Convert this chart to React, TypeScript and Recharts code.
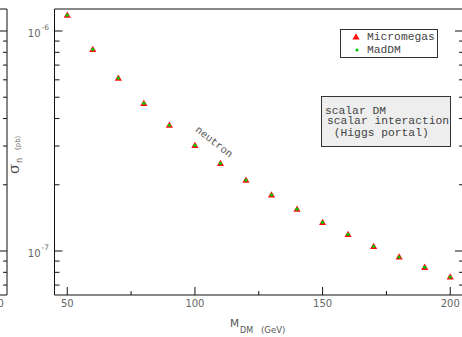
import { ComposedChart, Scatter, XAxis, YAxis, Legend } from 'recharts'

// spin-independent DM-neutron cross section, scalar DM (Higgs portal)
const masses = [50, 60, 70, 80, 90, 100, 110, 120, 130, 140, 150, 160, 170, 180, 190, 200]
const micromegas = [
  1.18e-6, 8.25e-7, 6.11e-7, 4.69e-7, 3.73e-7, 3.02e-7, 2.5e-7, 2.1e-7,
  1.8e-7, 1.55e-7, 1.35e-7, 1.19e-7, 1.05e-7, 9.39e-8, 8.43e-8, 7.62e-8,
]
const madDM = [
  1.18e-6, 8.25e-7, 6.11e-7, 4.69e-7, 3.73e-7, 3.02e-7, 2.5e-7, 2.1e-7,
  1.8e-7, 1.55e-7, 1.35e-7, 1.19e-7, 1.05e-7, 9.39e-8, 8.43e-8, 7.62e-8,
]
const seriesNames = ['Micromegas', 'MadDM']
const xTicks = [50, 75, 100, 125, 150, 175, 200]
const xLabelled = [50, 100, 150, 200]
const yTicks = [7e-8, 8e-8, 9e-8, 1e-7, 2e-7, 3e-7, 4e-7, 5e-7, 6e-7, 7e-7, 8e-7, 9e-7, 1e-6]
const yLabelled = [1e-7, 1e-6]
const xDomain = [45, 205]
const yDomain = [6.31e-8, 1.259e-6]
const boxLines = ['scalar DM', 'scalar interaction', ' (Higgs portal)']

const microData = masses.map((m, i) => ({ m, sigma: micromegas[i] }))
const madData = masses.map((m, i) => ({ m, sigma: madDM[i] }))

const INK = '#111'
const GREY = '#666'
const SANS = '"DejaVu Sans", sans-serif'
const MONO = '"Liberation Mono", monospace'

const BottomTick = ({ x, y, payload }: any) => {
  const big = xLabelled.includes(payload.value)
  return (
    <g>
      <line x1={x} x2={x} y1={y} y2={y - (big ? 8 : 4)} stroke={INK} />
      {big && (
        <text x={x} y={y + 11.5} textAnchor="middle" fontSize={10} fill={GREY} fontFamily={SANS}>
          {payload.value}
        </text>
      )}
    </g>
  )
}

const TopTick = ({ x, y, payload }: any) => {
  const big = xLabelled.includes(payload.value)
  return <line x1={x} x2={x} y1={y} y2={y + (big ? 8 : 4)} stroke={INK} />
}

const LeftTick = ({ x, y, payload }: any) => {
  const big = yLabelled.includes(payload.value)
  const exp = Math.round(Math.log10(payload.value))
  return (
    <g>
      <line x1={x} x2={x + (big ? 8 : 5)} y1={y} y2={y} stroke={INK} />
      {big && (
        <g fill={GREY} fontFamily={SANS}>
          <text x={x - 14} y={y + 6} textAnchor="end" fontSize={10}>10</text>
          <text x={x - 13} y={y - 1} fontSize={7.5}>{exp}</text>
        </g>
      )}
    </g>
  )
}

const RightTick = ({ x, y, payload }: any) => {
  const big = yLabelled.includes(payload.value)
  return <line x1={x} x2={x - (big ? 8 : 4)} y1={y} y2={y} stroke={INK} />
}

const Triangle = ({ cx, cy }: any) => (
  <polygon points={`${cx},${cy - 3.7} ${cx - 3.6},${cy + 2.6} ${cx + 3.6},${cy + 2.6}`} fill="#ff1010" />
)
const GreenDot = ({ cx, cy }: any) => <circle cx={cx} cy={cy} r={1.6} fill="#00c800" />

const XTitle = () => (
  <g fill="#555" fontFamily={SANS}>
    <text x={230} y={327} fontSize={10.5}>M</text>
    <text x={240} y={333} fontSize={8}>DM</text>
    <text x={261} y={332.5} fontSize={8.5}>(GeV)</text>
  </g>
)

const YTitle = () => (
  <g fill="#444">
    <text transform="translate(18.5,174) rotate(-90)" fontSize={15} fontFamily='"DejaVu Serif", serif'>σ</text>
    <text transform="translate(22,163) rotate(-90)" fontSize={8} fontFamily={SANS} fill="#555">n</text>
    <text transform="translate(19.5,150) rotate(-90)" fontSize={7} fontFamily={SANS} fill={GREY}>(pb)</text>
  </g>
)

const LegendBox = ({ payload }: any) => {
  const items = [...(payload || [])].sort(
    (a: any, b: any) => seriesNames.indexOf(a.value) - seriesNames.indexOf(b.value),
  )
  return (
    <div
      style={{
        width: 96, height: 27, border: '1px solid #333', background: '#fff', position: 'relative',
        fontFamily: MONO, fontSize: 11.3, color: '#444',
      }}
    >
      <svg width={24} height={27} style={{ position: 'absolute', left: 0, top: 0 }}>
        <Triangle cx={15} cy={7} />
        <GreenDot cx={16} cy={20} />
      </svg>
      {items.map((entry: any, i: number) => (
        <div key={entry.value} style={{ position: 'absolute', left: 26, top: 0.5 + i * 13, lineHeight: '13px' }}>
          {entry.value}
        </div>
      ))}
    </div>
  )
}

function Frame({ decorated }: { decorated: boolean }) {
  return (
    <ComposedChart width={480} height={337} margin={{ top: 5, right: 7, bottom: 12, left: 0 }}>
      <XAxis
        dataKey="m" type="number" domain={xDomain} ticks={xTicks} interval={0} allowDataOverflow
        height={30} tickSize={0} tickMargin={0} tickLine={false} tick={<BottomTick />}
        axisLine={{ stroke: INK }} label={decorated ? <XTitle /> : undefined}
      />
      <XAxis
        xAxisId="top" orientation="top" type="number" domain={xDomain} ticks={xTicks} interval={0}
        allowDataOverflow height={4} tickSize={0} tickMargin={0} tickLine={false} tick={<TopTick />}
        axisLine={{ stroke: INK }}
      />
      <YAxis
        dataKey="sigma" type="number" scale="log" domain={yDomain} ticks={yTicks} interval={0}
        allowDataOverflow width={54.5} tickSize={0} tickMargin={0} tickLine={false} tick={<LeftTick />}
        axisLine={{ stroke: INK }} label={decorated ? <YTitle /> : undefined}
      />
      <YAxis
        yAxisId="right" orientation="right" type="number" scale="log" domain={yDomain} ticks={yTicks}
        interval={0} allowDataOverflow width={10} tickSize={0} tickMargin={0} tickLine={false}
        tick={<RightTick />} axisLine={{ stroke: INK }}
      />
      {decorated && (
        <Legend
          layout="horizontal" verticalAlign="middle" align="center"
          wrapperStyle={{ left: 340, top: 29, width: 'auto', height: 'auto' }}
          content={<LegendBox />}
        />
      )}
      <Scatter name={seriesNames[0]} data={microData} dataKey="sigma" fill="#ff1010" shape={<Triangle />} isAnimationActive={false} />
      <Scatter name={seriesNames[1]} data={madData} dataKey="sigma" fill="#00c800" shape={<GreenDot />} isAnimationActive={false} />
    </ComposedChart>
  )
}

export default function App() {
  return (
    <div style={{ position: 'absolute', left: 0, top: 0, width: 462, height: 337, overflow: 'hidden', background: '#fff' }}>
      {/* edge of the neighbouring panel */}
      <div style={{ position: 'absolute', left: 0, top: 0, width: 8, height: 337, overflow: 'hidden' }}>
        <div style={{ position: 'absolute', left: -456, top: 0 }}>
          <Frame decorated={false} />
        </div>
      </div>
      <div style={{ position: 'absolute', left: 0, top: 0 }}>
        <Frame decorated />
      </div>
      <div
        style={{
          position: 'absolute', left: 321, top: 96, width: 128, height: 49, border: '1px solid #333',
          background: '#eeeeee', fontFamily: MONO, fontSize: 11.3, color: '#444', whiteSpace: 'pre',
          lineHeight: '10px',
        }}
      >
        <div style={{ position: 'absolute', left: 3, top: 8.7 }}>{boxLines[0]}</div>
        <div style={{ position: 'absolute', left: 5, top: 18.7 }}>{boxLines[1]}</div>
        <div style={{ position: 'absolute', left: 5, top: 30.7 }}>{boxLines[2]}</div>
      </div>
      <div
        style={{
          position: 'absolute', left: 214, top: 142, transform: 'translate(-50%, -50%) rotate(38deg)',
          fontFamily: MONO, fontSize: 10.5, color: '#555', whiteSpace: 'nowrap',
        }}
      >
        neutron
      </div>
    </div>
  )
}
